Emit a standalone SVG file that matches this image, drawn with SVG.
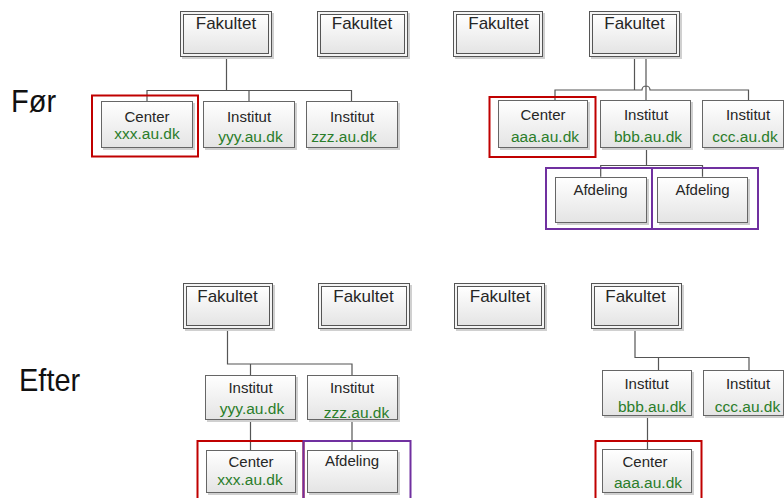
<svg xmlns="http://www.w3.org/2000/svg" width="784" height="498" viewBox="0 0 784 498">
<defs>
<linearGradient id="g" x1="0" y1="0" x2="0" y2="1">
<stop offset="0" stop-color="#ffffff"/>
<stop offset="1" stop-color="#e4e4e4"/>
</linearGradient>
<style>
.bx{fill:url(#g);stroke:#666;stroke-width:1}
.sh{fill:#d0d0d0}
.fo{fill:#f4f4f4;stroke:#555;stroke-width:1}
.fi{fill:url(#g);stroke:#555;stroke-width:1}
.t{font-family:"Liberation Sans",Arial,sans-serif;fill:#262626;text-anchor:middle}
.tf{font-size:17px}
.ti{font-size:15px}
.d{font-family:"Liberation Sans",Arial,sans-serif;font-size:15.5px;fill:#2a7d2a;text-anchor:middle}
.c{fill:none;stroke:#555;stroke-width:1.2}
.red{fill:none;stroke:#c00000;stroke-width:2}
.pur{fill:none;stroke:#7030a0;stroke-width:2}
.lab{font-family:"Liberation Sans",Arial,sans-serif;font-size:29px;fill:#111}
</style>
</defs>
<rect width="784" height="498" fill="#fff"/>

<text class="lab" transform="translate(11,111.5) scale(1,1.1)">Før</text>
<text class="lab" transform="translate(19,391) scale(1,1.1)">Efter</text>

<g id="connectors">
<path class="c" d="M226.5 57V90.5M147 101V90.5H351.5V101M249 90.5V101"/>
<path class="c" d="M634.5 57V90H555V100M634.5 90H642a4 4 0 0 1 8 0H748.5V100M646 57V100"/>
<path class="c" d="M646.5 148V165.5H600.7V176.7M646.5 165.5H702.5V176.7"/>
<path class="c" d="M227.5 329V364H352V375M250.5 364V375M250.5 420V450M352 420V450"/>
<path class="c" d="M635 329V357.5H749V370M658.5 357.5V370M647.5 416V449"/>
</g>

<g id="fak1"><rect class="sh" x="182" y="13" width="92" height="46"/><rect class="fo" x="180.5" y="11.5" width="91" height="45"/><rect class="fi" x="183.5" y="14.5" width="85" height="39"/><text class="t tf" x="226" y="29">Fakultet</text></g>
<g id="fak2"><rect class="sh" x="319" y="13" width="91" height="46"/><rect class="fo" x="317.5" y="11.5" width="90" height="45"/><rect class="fi" x="320.5" y="14.5" width="84" height="39"/><text class="t tf" x="362" y="29">Fakultet</text></g>
<g id="fak3"><rect class="sh" x="455" y="13" width="90" height="46"/><rect class="fo" x="453.5" y="11.5" width="89" height="45"/><rect class="fi" x="456.5" y="14.5" width="83" height="39"/><text class="t tf" x="498.5" y="29">Fakultet</text></g>
<g id="fak4"><rect class="sh" x="591" y="13" width="91" height="46"/><rect class="fo" x="589.5" y="11.5" width="90" height="45"/><rect class="fi" x="592.5" y="14.5" width="84" height="39"/><text class="t tf" x="634.5" y="29">Fakultet</text></g>

<g id="center-xxx"><rect class="sh" x="103" y="103" width="92" height="47"/><rect class="bx" x="101.5" y="101.5" width="91" height="46"/><text class="t ti" x="147" y="121.5">Center</text><text class="d" x="147" y="139">xxx.au.dk</text></g>
<g id="inst-yyy"><rect class="sh" x="205" y="103" width="92" height="47"/><rect class="bx" x="203.5" y="101.5" width="91" height="46"/><text class="t ti" x="249" y="121.5">Institut</text><text class="d" x="250.5" y="142">yyy.au.dk</text></g>
<g id="inst-zzz"><rect class="sh" x="308" y="103" width="92" height="47"/><rect class="bx" x="306.5" y="101.5" width="91" height="46"/><text class="t ti" x="352" y="121.5">Institut</text><text class="d" x="344" y="142">zzz.au.dk</text></g>
<rect class="red" x="92" y="95.5" width="106" height="61"/>

<g id="center-aaa"><rect class="sh" x="500" y="102" width="90" height="48"/><rect class="bx" x="498.5" y="100.5" width="89" height="47"/><text class="t ti" x="543" y="120">Center</text><text class="d" x="545" y="141.5">aaa.au.dk</text></g>
<g id="inst-bbb"><rect class="sh" x="602" y="102" width="91" height="48"/><rect class="bx" x="600.5" y="100.5" width="90" height="47"/><text class="t ti" x="646" y="120">Institut</text><text class="d" x="648" y="141.5">bbb.au.dk</text></g>
<g id="inst-ccc"><rect class="sh" x="704" y="102" width="82" height="48"/><rect class="bx" x="702.5" y="100.5" width="81" height="47"/><text class="t ti" x="748" y="120">Institut</text><text class="d" x="745" y="141.5">ccc.au.dk</text></g>
<rect class="red" x="489.5" y="97" width="106" height="60"/>

<g id="afd1"><rect class="sh" x="557" y="179" width="92" height="46"/><rect class="bx" x="555.5" y="177.5" width="91" height="45"/><text class="t ti" x="600.5" y="195">Afdeling</text></g>
<g id="afd2"><rect class="sh" x="659" y="179" width="91" height="46"/><rect class="bx" x="657.5" y="177.5" width="90" height="45"/><text class="t ti" x="702.5" y="195">Afdeling</text></g>
<rect class="pur" x="546" y="168" width="106" height="61"/>
<rect class="pur" x="652" y="168" width="106" height="61"/>

<g id="fak1b"><rect class="sh" x="185" y="285" width="90" height="46"/><rect class="fo" x="183.5" y="283.5" width="89" height="45"/><rect class="fi" x="186.5" y="286.5" width="83" height="39"/><text class="t tf" x="227.5" y="301.5">Fakultet</text></g>
<g id="fak2b"><rect class="sh" x="320" y="285" width="92" height="46"/><rect class="fo" x="318.5" y="283.5" width="91" height="45"/><rect class="fi" x="321.5" y="286.5" width="85" height="39"/><text class="t tf" x="363.5" y="301.5">Fakultet</text></g>
<g id="fak3b"><rect class="sh" x="456" y="285" width="91" height="46"/><rect class="fo" x="454.5" y="283.5" width="90" height="45"/><rect class="fi" x="457.5" y="286.5" width="84" height="39"/><text class="t tf" x="500" y="301.5">Fakultet</text></g>
<g id="fak4b"><rect class="sh" x="593" y="285" width="91" height="46"/><rect class="fo" x="591.5" y="283.5" width="90" height="45"/><rect class="fi" x="594.5" y="286.5" width="84" height="39"/><text class="t tf" x="635.5" y="301.5">Fakultet</text></g>

<g id="inst-yyy-b"><rect class="sh" x="207" y="377" width="91" height="45"/><rect class="bx" x="205.5" y="375.5" width="90" height="44"/><text class="t ti" x="250.5" y="393">Institut</text><text class="d" x="252" y="414">yyy.au.dk</text></g>
<g id="inst-zzz-b"><rect class="sh" x="309" y="377" width="91" height="45"/><rect class="bx" x="307.5" y="375.5" width="90" height="44"/><text class="t ti" x="352" y="393">Institut</text><text class="d" x="356.5" y="418">zzz.au.dk</text></g>
<g id="center-xxx-b"><rect class="sh" x="208" y="452" width="90" height="43"/><rect class="bx" x="206.5" y="450.5" width="89" height="42"/><text class="t ti" x="251" y="466.5">Center</text><text class="d" x="250" y="485">xxx.au.dk</text></g>
<g id="afd-b"><rect class="sh" x="309" y="452" width="91" height="43"/><rect class="bx" x="307.5" y="450.5" width="90" height="42"/><text class="t ti" x="352" y="466">Afdeling</text></g>
<rect class="red" x="197.5" y="441" width="106" height="62"/>
<rect class="pur" x="303.5" y="441" width="107" height="62"/>

<g id="inst-bbb-b"><rect class="sh" x="604" y="372" width="90" height="46"/><rect class="bx" x="602.5" y="370.5" width="89" height="45"/><text class="t ti" x="646.5" y="389">Institut</text><text class="d" x="652" y="411.5">bbb.au.dk</text></g>
<g id="inst-ccc-b"><rect class="sh" x="705" y="372" width="81" height="46"/><rect class="bx" x="703.5" y="370.5" width="80" height="45"/><text class="t ti" x="748" y="389">Institut</text><text class="d" x="747.5" y="411.5">ccc.au.dk</text></g>
<g id="center-aaa-b"><rect class="sh" x="604" y="451" width="90" height="44"/><rect class="bx" x="602.5" y="449.5" width="89" height="43"/><text class="t ti" x="645" y="466.5">Center</text><text class="d" x="648" y="488">aaa.au.dk</text></g>
<rect class="red" x="595.5" y="441" width="106" height="62"/>
</svg>
